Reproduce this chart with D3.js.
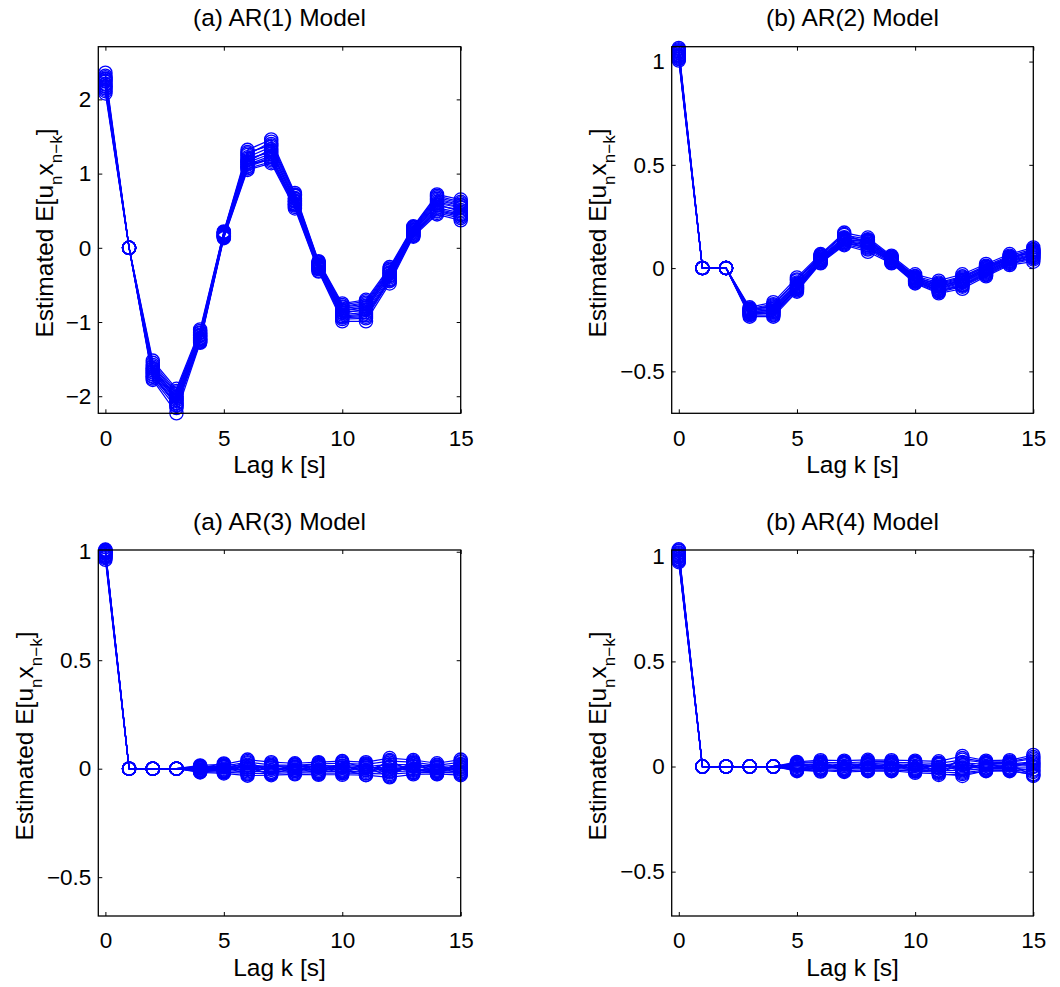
<!DOCTYPE html>
<html>
<head>
<meta charset="utf-8">
<script src="https://cdn.jsdelivr.net/npm/d3@7"></script>
<style>
  body { margin: 0; background: #fff; }
  svg { display: block; font-family: "Liberation Sans", Arial, Helvetica, sans-serif; }
</style>
</head>
<body>
<div id="chart"></div>
<script>
// lags on the x axis
var lags = [0, 1, 2, 3, 4, 5, 6, 7, 8, 9, 10, 11, 12, 13, 14, 15];
var xTicks = [0, 5, 10, 15];

var titles = ["(a) AR(1) Model", "(b) AR(2) Model", "(a) AR(3) Model", "(b) AR(4) Model"];
var yTicksAR1 = [-2, -1, 0, 1, 2];
var yTicksSmall = [-0.5, 0, 0.5, 1];

// estimated E[u_n x_{n-k}], one row per realisation
var ar1Runs = [
  [2.36, 0, -1.52, -1.90, -1.10, 0.22, 1.32, 1.46, 0.74, -0.18, -0.75, -0.70, -0.26, 0.29, 0.72, 0.65],
  [2.30, 0, -1.58, -1.95, -1.14, 0.20, 1.27, 1.40, 0.70, -0.20, -0.79, -0.74, -0.30, 0.27, 0.68, 0.60],
  [2.27, 0, -1.62, -2.00, -1.17, 0.19, 1.22, 1.36, 0.67, -0.22, -0.82, -0.78, -0.33, 0.25, 0.64, 0.57],
  [2.24, 0, -1.65, -2.03, -1.19, 0.18, 1.18, 1.31, 0.64, -0.24, -0.85, -0.81, -0.35, 0.23, 0.60, 0.54],
  [2.21, 0, -1.68, -2.06, -1.21, 0.17, 1.15, 1.27, 0.62, -0.25, -0.87, -0.84, -0.37, 0.22, 0.57, 0.51],
  [2.18, 0, -1.70, -2.09, -1.23, 0.16, 1.12, 1.24, 0.60, -0.27, -0.90, -0.87, -0.40, 0.20, 0.54, 0.47],
  [2.15, 0, -1.73, -2.12, -1.25, 0.15, 1.09, 1.20, 0.58, -0.29, -0.93, -0.91, -0.42, 0.18, 0.50, 0.44],
  [2.11, 0, -1.76, -2.16, -1.27, 0.14, 1.07, 1.16, 0.55, -0.31, -0.96, -0.95, -0.45, 0.16, 0.47, 0.40],
  [2.08, 0, -1.78, -2.23, -1.28, 0.13, 1.05, 1.14, 0.53, -0.32, -0.99, -0.99, -0.48, 0.15, 0.45, 0.37],
  [2.25, 0, -1.60, -1.97, -1.15, 0.21, 1.25, 1.43, 0.72, -0.19, -0.77, -0.72, -0.28, 0.28, 0.70, 0.62],
  [2.32, 0, -1.55, -1.93, -1.12, 0.21, 1.29, 1.38, 0.71, -0.21, -0.80, -0.76, -0.31, 0.26, 0.66, 0.58],
  [2.20, 0, -1.67, -2.05, -1.22, 0.17, 1.16, 1.33, 0.63, -0.26, -0.88, -0.83, -0.38, 0.21, 0.58, 0.49],
  [2.13, 0, -1.74, -2.10, -1.24, 0.15, 1.10, 1.22, 0.59, -0.28, -0.92, -0.89, -0.43, 0.19, 0.52, 0.45],
  [2.28, 0, -1.63, -2.01, -1.18, 0.19, 1.20, 1.29, 0.66, -0.23, -0.84, -0.80, -0.34, 0.24, 0.62, 0.55],
  [2.17, 0, -1.71, -2.13, -1.26, 0.16, 1.13, 1.18, 0.57, -0.28, -0.94, -0.93, -0.44, 0.17, 0.49, 0.42]
];

var ar2Runs = [
  [1.066, 0, 0, -0.190, -0.165, -0.045, 0.068, 0.172, 0.148, 0.060, -0.030, -0.061, -0.030, 0.020, 0.068, 0.100],
  [1.055, 0, 0, -0.196, -0.175, -0.060, 0.060, 0.160, 0.140, 0.055, -0.038, -0.070, -0.040, 0.012, 0.060, 0.092],
  [1.048, 0, 0, -0.200, -0.185, -0.070, 0.055, 0.150, 0.132, 0.050, -0.045, -0.080, -0.050, 0.005, 0.052, 0.085],
  [1.040, 0, 0, -0.205, -0.195, -0.080, 0.048, 0.142, 0.125, 0.045, -0.050, -0.088, -0.058, -0.002, 0.046, 0.078],
  [1.034, 0, 0, -0.210, -0.205, -0.088, 0.042, 0.135, 0.118, 0.040, -0.055, -0.095, -0.065, -0.010, 0.040, 0.070],
  [1.028, 0, 0, -0.215, -0.212, -0.095, 0.036, 0.128, 0.110, 0.036, -0.060, -0.102, -0.072, -0.018, 0.034, 0.062],
  [1.020, 0, 0, -0.222, -0.220, -0.102, 0.030, 0.120, 0.100, 0.030, -0.066, -0.110, -0.082, -0.026, 0.026, 0.052],
  [1.012, 0, 0, -0.228, -0.228, -0.108, 0.026, 0.115, 0.090, 0.026, -0.070, -0.116, -0.090, -0.034, 0.020, 0.042],
  [1.005, 0, 0, -0.235, -0.235, -0.114, 0.023, 0.111, 0.079, 0.023, -0.074, -0.122, -0.100, -0.040, 0.015, 0.031],
  [1.060, 0, 0, -0.202, -0.180, -0.055, 0.064, 0.165, 0.120, 0.048, -0.048, -0.075, -0.045, 0.008, 0.055, 0.075],
  [1.050, 0, 0, -0.198, -0.190, -0.075, 0.052, 0.146, 0.136, 0.052, -0.042, -0.084, -0.055, 0.000, 0.050, 0.088],
  [1.030, 0, 0, -0.212, -0.200, -0.085, 0.040, 0.132, 0.112, 0.038, -0.058, -0.098, -0.068, -0.014, 0.036, 0.066],
  [1.015, 0, 0, -0.225, -0.215, -0.100, 0.032, 0.124, 0.104, 0.032, -0.064, -0.106, -0.078, -0.022, 0.030, 0.058],
  [1.044, 0, 0, -0.208, -0.225, -0.092, 0.045, 0.138, 0.128, 0.042, -0.052, -0.090, -0.062, -0.006, 0.044, 0.080],
  [1.024, 0, 0, -0.218, -0.208, -0.098, 0.038, 0.126, 0.095, 0.034, -0.062, -0.112, -0.085, -0.030, 0.024, 0.048]
];

var ar3Runs = [
  [1.010, 0, 0, 0, 0.015, 0.020, 0.042, 0.030, 0.025, 0.030, 0.035, 0.030, 0.049, 0.040, 0.025, 0.042],
  [1.005, 0, 0, 0, 0.008, 0.012, 0.030, 0.018, 0.015, 0.022, 0.025, 0.020, 0.035, 0.030, 0.015, 0.030],
  [1.000, 0, 0, 0, 0.004, 0.006, 0.018, 0.010, 0.008, 0.012, 0.015, 0.010, 0.020, 0.018, 0.008, 0.018],
  [0.995, 0, 0, 0, 0.000, 0.000, 0.008, 0.002, 0.002, 0.004, 0.006, 0.002, 0.008, 0.008, 0.002, 0.008],
  [0.990, 0, 0, 0, -0.004, -0.004, -0.002, -0.006, -0.004, -0.004, -0.004, -0.006, -0.004, -0.002, -0.004, -0.002],
  [0.985, 0, 0, 0, -0.008, -0.010, -0.012, -0.014, -0.010, -0.012, -0.012, -0.014, -0.014, -0.010, -0.010, -0.012],
  [0.978, 0, 0, 0, -0.012, -0.016, -0.022, -0.022, -0.018, -0.020, -0.020, -0.022, -0.025, -0.018, -0.016, -0.020],
  [0.970, 0, 0, 0, -0.017, -0.022, -0.032, -0.030, -0.026, -0.028, -0.028, -0.030, -0.040, -0.026, -0.024, -0.030],
  [0.963, 0, 0, 0, 0.010, -0.018, 0.025, -0.015, 0.018, -0.010, 0.022, -0.020, 0.012, -0.015, 0.010, -0.025],
  [1.008, 0, 0, 0, -0.010, 0.016, -0.018, 0.024, -0.012, 0.018, -0.016, 0.024, -0.030, 0.034, -0.020, 0.012],
  [0.998, 0, 0, 0, 0.012, -0.008, 0.014, 0.006, -0.006, 0.016, 0.004, 0.012, -0.010, 0.022, 0.004, -0.006],
  [0.982, 0, 0, 0, -0.015, 0.010, -0.006, 0.014, 0.010, -0.016, 0.012, -0.008, 0.028, -0.006, -0.012, 0.022],
  [1.003, 0, 0, 0, 0.006, -0.012, 0.036, -0.020, 0.020, 0.008, -0.022, 0.016, -0.018, 0.012, 0.018, -0.018],
  [0.975, 0, 0, 0, -0.006, 0.008, -0.026, 0.012, -0.022, 0.026, -0.008, -0.028, 0.040, -0.020, -0.008, 0.004],
  [0.992, 0, 0, 0, 0.002, 0.024, 0.004, -0.026, 0.006, -0.024, 0.030, 0.006, -0.035, 0.026, -0.026, 0.034]
];

var ar4Runs = [
  [1.033, 0, 0, 0, 0, 0.022, 0.030, 0.028, 0.032, 0.030, 0.028, 0.025, 0.050, 0.028, 0.030, 0.055],
  [1.025, 0, 0, 0, 0, 0.015, 0.020, 0.018, 0.022, 0.020, 0.018, 0.015, 0.032, 0.018, 0.020, 0.038],
  [1.018, 0, 0, 0, 0, 0.008, 0.012, 0.010, 0.012, 0.012, 0.010, 0.006, 0.018, 0.010, 0.012, 0.022],
  [1.010, 0, 0, 0, 0, 0.003, 0.004, 0.002, 0.005, 0.004, 0.003, -0.002, 0.006, 0.003, 0.004, 0.010],
  [1.002, 0, 0, 0, 0, -0.002, -0.004, -0.005, -0.003, -0.004, -0.006, -0.010, -0.006, -0.004, -0.004, -0.002],
  [0.995, 0, 0, 0, 0, -0.008, -0.010, -0.012, -0.010, -0.010, -0.014, -0.018, -0.018, -0.010, -0.010, -0.014],
  [0.988, 0, 0, 0, 0, -0.013, -0.016, -0.020, -0.016, -0.016, -0.022, -0.026, -0.030, -0.016, -0.016, -0.026],
  [0.980, 0, 0, 0, 0, -0.018, -0.020, -0.026, -0.022, -0.020, -0.030, -0.034, -0.045, -0.020, -0.022, -0.036],
  [0.972, 0, 0, 0, 0, -0.022, 0.016, -0.018, 0.020, -0.014, 0.022, -0.030, 0.012, -0.016, 0.012, -0.045],
  [1.028, 0, 0, 0, 0, 0.012, -0.012, 0.020, -0.014, 0.018, -0.020, 0.012, -0.024, 0.018, -0.012, 0.030],
  [1.005, 0, 0, 0, 0, 0.010, -0.006, 0.014, 0.008, -0.008, 0.014, -0.004, 0.022, -0.008, 0.008, 0.016],
  [0.985, 0, 0, 0, 0, -0.012, 0.008, -0.008, -0.006, 0.012, -0.010, 0.010, -0.012, 0.012, -0.006, -0.020],
  [1.015, 0, 0, 0, 0, 0.018, 0.024, -0.014, 0.026, 0.024, -0.016, -0.022, 0.040, 0.022, 0.024, 0.045],
  [0.978, 0, 0, 0, 0, -0.016, -0.024, 0.022, -0.020, -0.022, 0.020, -0.040, -0.036, -0.022, -0.018, -0.040],
  [0.998, 0, 0, 0, 0, 0.004, 0.014, -0.022, 0.016, 0.008, -0.024, 0.018, -0.010, 0.014, 0.016, 0.002]
];

var W = 1060, H = 987;
var blue = "#0000ff";
var tickFont = 22.5, labelFont = 24.5;

var svg = d3.select("#chart").append("svg")
    .attr("width", W)
    .attr("height", H);

// panel boxes (pixels) and y limits
var panels = [
  {runs: ar1Runs, title: titles[0], yTicks: yTicksAR1, yDom: [-2.23, 2.71],
   left: 98.3, right: 460.7, top: 46.7, bottom: 413.3, ylabX: 53},
  {runs: ar2Runs, title: titles[1], yTicks: yTicksSmall, yDom: [-0.703, 1.072],
   left: 671.7, right: 1033.3, top: 46.7, bottom: 413.3, ylabX: 605.5},
  {runs: ar3Runs, title: titles[2], yTicks: yTicksSmall, yDom: [-0.679, 1.008],
   left: 98.3, right: 460.7, top: 550, bottom: 916, ylabX: 32.5},
  {runs: ar4Runs, title: titles[3], yTicks: yTicksSmall, yDom: [-0.711, 1.03],
   left: 671.7, right: 1033.3, top: 550, bottom: 916, ylabX: 605.5}
];

panels.forEach(function(p) { drawPanel(p); });

function drawPanel(p) {
  var x = d3.scaleLinear().domain([-0.3, 15]).range([p.left, p.right]);
  var y = d3.scaleLinear().domain(p.yDom).range([p.bottom, p.top]);
  var fmt = function(d) { return d3.format("")(d); };

  var g = svg.append("g");

  // inward ticks on all four sides, MATLAB style
  var xb = g.append("g")
      .attr("transform", "translate(0," + p.bottom + ")")
      .call(d3.axisBottom(x).tickValues(xTicks).tickFormat(fmt)
            .tickSizeInner(-4).tickSizeOuter(0).tickPadding(16.5));
  var xt = g.append("g")
      .attr("transform", "translate(0," + p.top + ")")
      .call(d3.axisTop(x).tickValues(xTicks).tickFormat("")
            .tickSizeInner(-4).tickSizeOuter(0));
  var yl = g.append("g")
      .attr("transform", "translate(" + p.left + ",0)")
      .call(d3.axisLeft(y).tickValues(p.yTicks).tickFormat(fmt)
            .tickSizeInner(-4).tickSizeOuter(0).tickPadding(7));
  var yr = g.append("g")
      .attr("transform", "translate(" + p.right + ",0)")
      .call(d3.axisRight(y).tickValues(p.yTicks).tickFormat("")
            .tickSizeInner(-4).tickSizeOuter(0));

  [xb, xt, yl, yr].forEach(function(a) {
    a.select(".domain").remove();
    a.selectAll("line").attr("stroke", "#000").attr("stroke-width", 1);
    a.selectAll("text")
      .attr("fill", "#000")
      .style("font-size", tickFont + "px")
      .style("font-family", "'Liberation Sans', Arial, sans-serif");
  });

  // series: line first then its markers
  var line = d3.line()
      .x(function(d, i) { return x(lags[i]); })
      .y(function(d) { return y(d); });

  p.runs.forEach(function(run) {
    var s = g.append("g");
    s.append("path")
      .attr("d", line(run))
      .attr("fill", "none")
      .attr("stroke", blue)
      .attr("stroke-width", 1.2);
    s.selectAll("circle")
      .data(run)
      .enter().append("circle")
      .attr("cx", function(d, i) { return x(lags[i]); })
      .attr("cy", function(d) { return y(d); })
      .attr("r", 6.6)
      .attr("fill", "none")
      .attr("stroke", blue)
      .attr("stroke-width", 1.3);
  });

  // axes box
  g.append("rect")
    .attr("x", p.left)
    .attr("y", p.top)
    .attr("width", p.right - p.left)
    .attr("height", p.bottom - p.top)
    .attr("fill", "none")
    .attr("stroke", "#000")
    .attr("stroke-width", 1.3);

  var cx = (p.left + p.right) / 2;
  var cy = (p.top + p.bottom) / 2;

  g.append("text")
    .attr("x", cx)
    .attr("y", p.top - 20.5)
    .attr("text-anchor", "middle")
    .style("font-size", labelFont + "px")
    .text(p.title);

  g.append("text")
    .attr("x", cx)
    .attr("y", p.bottom + 60)
    .attr("text-anchor", "middle")
    .style("font-size", labelFont + "px")
    .text("Lag k [s]");

  // y label with subscripts
  var yt = g.append("text")
    .attr("transform", "translate(" + p.ylabX + "," + (cy + 3) + ") rotate(-90)")
    .attr("text-anchor", "middle")
    .style("font-size", labelFont + "px");
  yt.append("tspan").text("Estimated E[u");
  yt.append("tspan").attr("dy", 9).style("font-size", "17px").text("n");
  yt.append("tspan").attr("dy", -9).text("x");
  yt.append("tspan").attr("dy", 9).style("font-size", "17px").text("n\u2212k");
  yt.append("tspan").attr("dy", -9).text("]");
}
</script>
</body>
</html>
